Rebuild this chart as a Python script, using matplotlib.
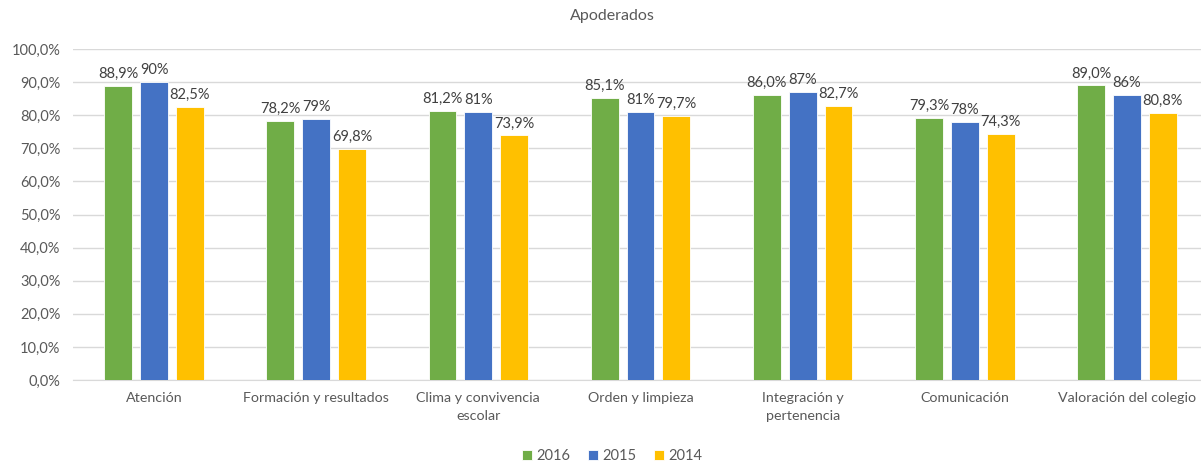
import numpy as np
import matplotlib
matplotlib.use('Agg')
import matplotlib.pyplot as plt

categories = ['Atención', 'Formación y resultados', 'Clima y convivencia\nescolar',
              'Orden y limpieza', 'Integración y\npertenencia', 'Comunicación',
              'Valoración del colegio']
years = ['2016', '2015', '2014']
v2016 = [88.9, 78.2, 81.2, 85.1, 86.0, 79.3, 89.0]
v2015 = [90, 79, 81, 81, 87, 78, 86]
v2014 = [82.5, 69.8, 73.9, 79.7, 82.7, 74.3, 80.8]
lab2016 = ['88,9%', '78,2%', '81,2%', '85,1%', '86,0%', '79,3%', '89,0%']
lab2015 = ['90%', '79%', '81%', '81%', '87%', '78%', '86%']
lab2014 = ['82,5%', '69,8%', '73,9%', '79,7%', '82,7%', '74,3%', '80,8%']
colors = ['#70AD47', '#4472C4', '#FFC000']

plt.rcParams['font.family'] = ['Lato', 'DejaVu Sans']
txt = '#595959'

fig = plt.figure(figsize=(12.01, 4.66), dpi=100)
ax = fig.add_axes([73/1201, 86/466, 1135/1201, 331/466])

x = np.arange(len(categories))
w = 0.172
step = 0.221
series = [v2016, v2015, v2014]
labels = [lab2016, lab2015, lab2014]
for i, (vals, labs) in enumerate(zip(series, labels)):
    pos = x + (i - 1) * step
    ax.bar(pos, vals, w, color=colors[i], label=years[i], zorder=3,
           edgecolor='white', linewidth=0.6)
    for xp, v, l in zip(pos, vals, labs):
        ax.text(xp, v + 1.5, l, ha='center', va='bottom', fontsize=10.5, color='#404040')

ax.set_xlim(-0.5, len(categories) - 0.5)
ax.set_ylim(0, 100)
ax.set_yticks(np.arange(0, 101, 10))
ax.set_yticklabels([f'{t},0%' for t in range(0, 101, 10)], fontsize=10.5, color=txt)
ax.set_xticks(x)
ax.set_xticklabels(categories, fontsize=10.3, color=txt, linespacing=1.5)
ax.tick_params(length=0, pad=9)
ax.grid(axis='y', color='#D9D9D9', linewidth=1, zorder=0)
for s in ['top', 'right', 'left']:
    ax.spines[s].set_visible(False)
ax.spines['bottom'].set_color('#D9D9D9')

fig.text(612/1201, 1 - 16/466, 'Apoderados', ha='center', va='center', fontsize=11.5, color=txt)
fig.legend(loc='center', bbox_to_anchor=(612/1201, 1 - 456/466), ncol=3, frameon=False,
           fontsize=10.5, handlelength=0.7, handleheight=0.7, handletextpad=0.3,
           columnspacing=1.2, labelcolor=txt)

fig.savefig('out.png', dpi=100)
